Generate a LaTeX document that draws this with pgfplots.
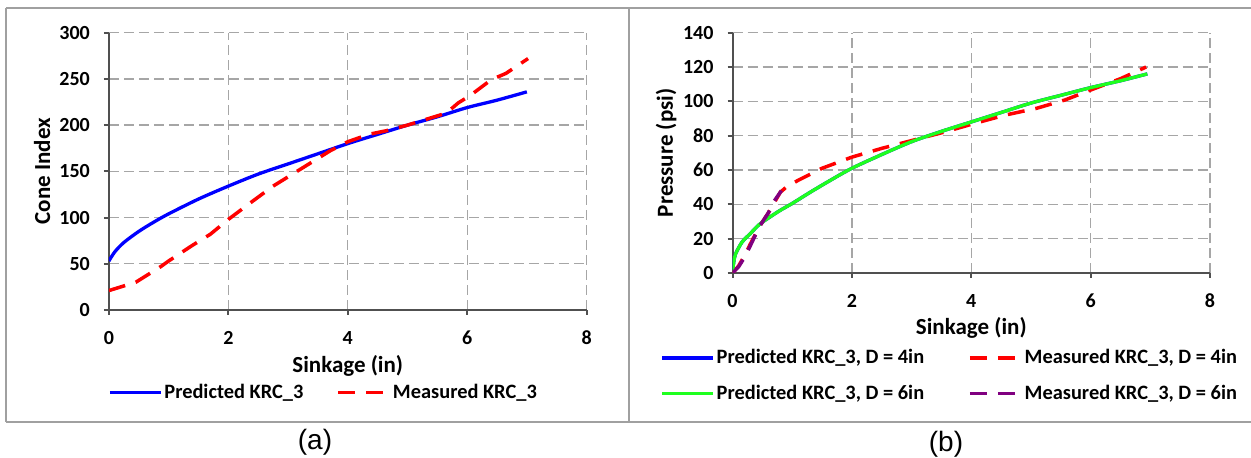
\documentclass[border=0pt]{standalone}
\usepackage{pgfplots}
\pgfplotsset{compat=1.18}
\usepackage{fontspec}
\setmainfont{Carlito}
\newfontfamily\capfont{Liberation Sans}

\definecolor{kblue}{RGB}{0,0,255}
\definecolor{kred}{RGB}{255,0,0}
\definecolor{kgreen}{RGB}{30,255,30}
\definecolor{kpurple}{RGB}{128,0,128}
\definecolor{gridc}{RGB}{166,166,166}
\definecolor{axc}{RGB}{80,80,80}
\definecolor{boxc}{RGB}{160,160,160}

\pgfplotsset{
  kstyle/.style={
    scale only axis,
    axis x line=bottom, axis y line=left,
    axis line style={axc, line width=1pt, -},
    xmin=0, xmax=8, xtick={0,2,...,8},
    grid=major,
    grid style={gridc, line width=0.65pt, dash pattern=on 5pt off 2.5pt},
    tick style={axc, line width=1pt},
    tick align=outside, major tick length=2.5pt,
    /pgf/number format/assume math mode=true,
    tick label style={font=\fontsize{10}{11}\selectfont\bfseries},
    xticklabel style={yshift=-4.5pt},
    yticklabel style={xshift=-3.5pt},
    label style={font=\fontsize{11.5}{13}\selectfont\bfseries},
    legend style={draw=none, fill=none, inner sep=0pt,
      font=\fontsize{10.2}{12}\selectfont\bfseries,
      nodes={inner xsep=1pt}},
    legend cell align=left,
    legend image code/.code={\draw[##1] (0pt,0pt) -- (25.5pt,0pt);},
  },
  pred/.style={line width=1.65pt, smooth},
  meas/.style={line width=1.75pt, dash pattern=on 8.5pt off 5.5pt},
}

\begin{document}
\begin{tikzpicture}
\path[use as bounding box] (0,0) rectangle (625.5pt,229pt);
% panel frames
\draw[boxc, line width=0.8pt] (3pt,225pt) -- (625.5pt,225pt);
\draw[boxc, line width=0.8pt] (3pt,18pt) -- (625.5pt,18pt);
\draw[boxc, line width=0.8pt] (3pt,18pt) -- (3pt,225pt);
\draw[boxc, line width=0.8pt] (314.5pt,18pt) -- (314.5pt,225pt);

% (a) cone index
\begin{axis}[kstyle,
  at={(54.45pt,74pt)}, anchor=south west,
  width=238.85pt, height=138.65pt,
  ymin=0, ymax=300, ytick={0,50,...,300},
  xlabel={Sinkage (in)}, ylabel={Cone Index},
  xlabel style={at={(axis description cs:0.5,-0.2)}, anchor=center},
  ylabel style={at={(axis description cs:-0.14,0.5)}, anchor=center},
  legend columns=2,
  legend style={at={(axis description cs:-0.0025,-0.298)}, anchor=west,
    /tikz/every even column/.append style={column sep=15.5pt}},
]
\addplot[pred, kblue] coordinates {
  (0,53) (0.1,63) (0.25,73) (0.5,85) (0.75,95) (1,104) (1.5,120) (2,134)
  (2.5,147) (3,158) (3.5,169) (4,180) (4.5,190) (5,200) (5.5,209)
  (6,219) (6.5,227) (7,236)
};
\addlegendentry{Predicted KRC\_3}
\addplot[meas, kred] coordinates {
  (0,21) (0.45,30) (0.87,47) (1.0,53) (1.4,70) (1.7,82) (2.0,98)
  (2.35,115) (2.75,134) (3.0,144) (3.35,158) (3.7,172) (4.0,182)
  (4.35,190) (4.65,194) (5.0,200) (5.45,209) (5.65,213) (5.85,224)
  (6.05,232) (6.4,249) (6.65,256) (7.02,272)
};
\addlegendentry{Measured KRC\_3}
\end{axis}

% (b) pressure
\begin{axis}[kstyle,
  at={(366.25pt,92.5pt)}, anchor=south west,
  width=238.75pt, height=120.15pt,
  ymin=0, ymax=140, ytick={0,20,...,140},
  xlabel={Sinkage (in)}, ylabel={Pressure (psi)},
  xlabel style={at={(axis description cs:0.5,-0.228)}, anchor=center},
  ylabel style={at={(axis description cs:-0.139,0.5)}, anchor=center},
  legend columns=2,
  legend style={at={(axis description cs:-0.1518,-0.4278)}, anchor=west,
    /tikz/every even column/.append style={column sep=21pt},
    /tikz/row sep=5pt},
]
\addplot[pred, kblue] coordinates {
  (0,1) (0.02,6) (0.05,11) (0.16,18) (0.3,23) (0.44,28) (0.6,32) (0.8,36.5)
  (1.0,40.5) (1.3,47) (1.64,54) (2,61) (2.5,69) (3,76.5) (3.5,82.5) (4,88)
  (4.5,93.5) (5,99) (5.5,103.5) (6,108) (6.5,112) (6.95,116)
};
\addlegendentry{Predicted KRC\_3, D = 4in}
\addplot[meas, kred] coordinates {
  (0,0) (0.1,4) (0.2,10) (0.3,17) (0.45,27) (0.6,35) (0.8,47) (0.9,50)
  (1.1,54) (1.5,61) (2,67.5) (2.5,72.6) (3.04,77.5) (3.57,82.3) (4.04,87)
  (4.57,92) (5.1,96) (5.57,100.8) (6.0,106.6) (6.5,113.2) (6.93,120)
};
\addlegendentry{Measured KRC\_3, D = 4in}
\addplot[pred, kgreen] coordinates {
  (0,1) (0.02,6) (0.05,11) (0.16,18) (0.3,23) (0.44,28) (0.6,32) (0.8,36.5)
  (1.0,40.5) (1.3,47) (1.64,54) (2,61) (2.5,69) (3,76.5) (3.5,82.5) (4,88)
  (4.5,93.5) (5,99) (5.5,103.5) (6,108) (6.5,112) (6.95,116)
};
\addlegendentry{Predicted KRC\_3, D = 6in}
\addplot[meas, kpurple] coordinates {
  (0,0) (0.1,3.5) (0.2,9) (0.3,16) (0.45,27) (0.6,35) (0.7,42) (0.82,48)
};
\addlegendentry{Measured KRC\_3, D = 6in}
\end{axis}

\node[font=\capfont\fontsize{14}{16}\selectfont] at (157.5pt,8pt) {(a)};
\node[font=\capfont\fontsize{14}{16}\selectfont] at (473pt,7pt) {(b)};
\end{tikzpicture}
\end{document}
